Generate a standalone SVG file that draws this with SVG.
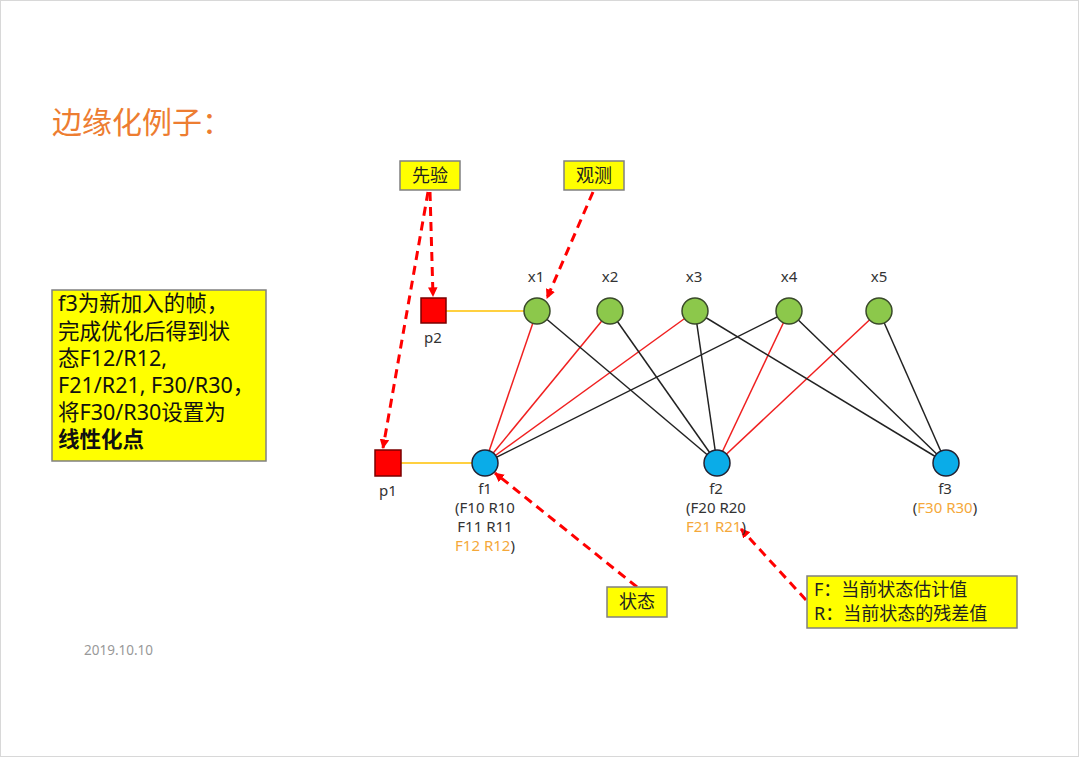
<svg xmlns="http://www.w3.org/2000/svg" width="1080" height="759" viewBox="0 0 1080 759">
<defs>
<marker id="ah" viewBox="0 0 10 10" refX="9" refY="5" markerWidth="3.2" markerHeight="3.2" orient="auto" markerUnits="strokeWidth">
<path d="M0,0 L10,5 L0,10 z" fill="#FF0000"/>
</marker>
</defs>
<style>
text{font-family:"Noto Sans","Noto Sans CJK SC",sans-serif;}
.lbl{font-size:15px;fill:#333;text-anchor:middle;}
.or{fill:#F5A83A;}
.box{fill:#FFFF00;stroke:#808080;stroke-width:1.5;}
.bt{font-size:18px;fill:#222;}
.xn{fill:#8CC84B;stroke:#3A4A2A;stroke-width:1.5;}
.fn{fill:#0AACE8;stroke:#223;stroke-width:1.5;}
.pn{fill:#FF0000;stroke:#7A0000;stroke-width:1.5;}
.re{stroke:#F02020;stroke-width:1.5;}
.bk{stroke:#222;stroke-width:1.5;}
.yl{stroke:#FFC000;stroke-width:1.5;}
.da{stroke:#FF0000;stroke-width:3;stroke-dasharray:9,6;fill:none;marker-end:url(#ah);}
</style>
<rect x="0.5" y="0.5" width="1078" height="756" fill="#fff" stroke="#d8d8d8"/>
<text x="52" y="133" font-size="30" fill="#ED7D31">边缘化例子：</text>
<text x="84" y="655" font-size="13.5" fill="#999">2019.10.10</text>

<g id="connectors">
<line class="yl" x1="446" y1="311" x2="524" y2="311"/>
<line class="yl" x1="401" y1="463" x2="472" y2="463"/>
<line class="re" x1="485" y1="463" x2="537" y2="311"/>
<line class="re" x1="485" y1="463" x2="610" y2="311"/>
<line class="re" x1="485" y1="463" x2="695" y2="311"/>
<line class="bk" x1="485" y1="463" x2="789" y2="311"/>
<line class="bk" x1="717" y1="463" x2="537" y2="311"/>
<line class="bk" x1="717" y1="463" x2="610" y2="311"/>
<line class="bk" x1="717" y1="463" x2="695" y2="311"/>
<line class="re" x1="717" y1="463" x2="789" y2="311"/>
<line class="re" x1="717" y1="463" x2="879" y2="311"/>
<line class="bk" x1="946" y1="463" x2="695" y2="311"/>
<line class="bk" x1="946" y1="463" x2="789" y2="311"/>
<line class="bk" x1="946" y1="463" x2="879" y2="311"/>
<line class="da" x1="430" y1="192" x2="433" y2="296"/>
<line class="da" x1="428" y1="192" x2="383" y2="448"/>
<line class="da" x1="593" y1="192" x2="547" y2="298"/>
<line class="da" x1="637" y1="587" x2="495" y2="473"/>
<line class="da" x1="806" y1="600" x2="741" y2="529"/>
</g>

<g id="p2"><rect class="pn" x="421" y="298" width="25" height="25"/><text class="lbl" x="433" y="343">p2</text></g>
<g id="p1"><rect class="pn" x="375" y="450" width="26" height="26"/><text class="lbl" x="388" y="496">p1</text></g>

<g id="x1"><circle class="xn" cx="537" cy="311" r="13"/><text class="lbl" x="536" y="282">x1</text></g>
<g id="x2"><circle class="xn" cx="610" cy="311" r="13"/><text class="lbl" x="610" y="282">x2</text></g>
<g id="x3"><circle class="xn" cx="695" cy="311" r="13"/><text class="lbl" x="694" y="282">x3</text></g>
<g id="x4"><circle class="xn" cx="789" cy="311" r="13"/><text class="lbl" x="789" y="282">x4</text></g>
<g id="x5"><circle class="xn" cx="879" cy="311" r="13"/><text class="lbl" x="879" y="282">x5</text></g>

<g id="f1"><circle class="fn" cx="485" cy="463" r="13"/>
<text class="lbl" x="485" y="494">f1</text>
<text class="lbl" x="485" y="513">(F10 R10</text>
<text class="lbl" x="485" y="532">F11 R11</text>
<text class="lbl" x="485" y="551"><tspan class="or">F12 R12</tspan>)</text>
</g>
<g id="f2"><circle class="fn" cx="717" cy="463" r="13"/>
<text class="lbl" x="716" y="494">f2</text>
<text class="lbl" x="716" y="513">(F20 R20</text>
<text class="lbl" x="716" y="532"><tspan class="or">F21 R21</tspan>)</text>
</g>
<g id="f3"><circle class="fn" cx="946" cy="463" r="13"/>
<text class="lbl" x="945" y="494">f3</text>
<text class="lbl" x="945" y="513">(<tspan class="or">F30 R30</tspan>)</text>
</g>

<g id="prior"><rect class="box" x="400" y="161" width="60" height="29"/><text class="bt" x="430" y="182" text-anchor="middle">先验</text></g>
<g id="obs"><rect class="box" x="564" y="161" width="60" height="29"/><text class="bt" x="594" y="182" text-anchor="middle">观测</text></g>
<g id="state"><rect class="box" x="607" y="587" width="60" height="30"/><text class="bt" x="637" y="608" text-anchor="middle">状态</text></g>
<g id="legend"><rect class="box" x="807" y="576" width="210" height="52"/>
<text class="bt" x="814" y="596">F：当前状态估计值</text>
<text class="bt" x="814" y="620">R：当前状态的残差值</text>
</g>
<g id="note"><rect class="box" x="52" y="290" width="214" height="171"/>
<text font-size="21.5" fill="#111">
<tspan x="58" y="311">f3为新加入的帧，</tspan>
<tspan x="58" y="339">完成优化后得到状</tspan>
<tspan x="58" y="366">态F12/R12,</tspan>
<tspan x="58" y="393">F21/R21, F30/R30，</tspan>
<tspan x="58" y="420">将F30/R30设置为</tspan>
<tspan x="58" y="447" font-weight="bold">线性化点</tspan>
</text>
</g>
</svg>
